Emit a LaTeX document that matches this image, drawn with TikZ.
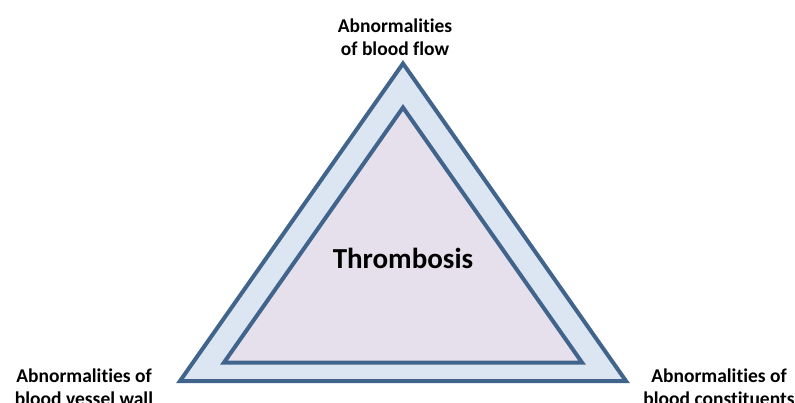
\documentclass[tikz,border=0pt]{standalone}
\usepackage{fontspec}
\setmainfont[Ligatures=NoCommon]{Carlito}
\usetikzlibrary{positioning}
\definecolor{edgeblue}{HTML}{41648C}
\definecolor{outerfill}{HTML}{DCE6F2}
\definecolor{innerfill}{HTML}{E6E0EC}

\begin{document}
\begin{tikzpicture}[
    x=1pt, y=-1pt,
    % Define styles for the two triangles and the labels
    edge_line/.style={draw=edgeblue, line width=4pt, line join=miter},
    outer_tri/.style={edge_line, fill=outerfill},
    inner_tri/.style={edge_line, fill=innerfill},
    lbl/.style={font=\bfseries\fontsize{19.5}{23.5}\selectfont, align=center, inner sep=0pt},
    main_lbl/.style={font=\bfseries\fontsize{29}{34}\selectfont, inner sep=0pt}
]
    \useasboundingbox (0,0) rectangle (795,403);

    % --- Triangles ---
    \draw[outer_tri] (403,63.5) -- (180,381) -- (626,381) -- cycle;
    \draw[inner_tri] (403,107.5) -- (224,362.5) -- (582,362.5) -- cycle;

    % --- Labels ---
    \node[main_lbl] (thrombosis) at (403,258) {Thrombosis};
    \node[lbl] (flow) at (395,37) {Abnormalities\\of blood flow};
    \node[lbl] (wall) at (84,387) {Abnormalities of\\blood vessel wall};
    \node[lbl] (constit) at (719,387) {Abnormalities of\\blood constituents};

\end{tikzpicture}
\end{document}
